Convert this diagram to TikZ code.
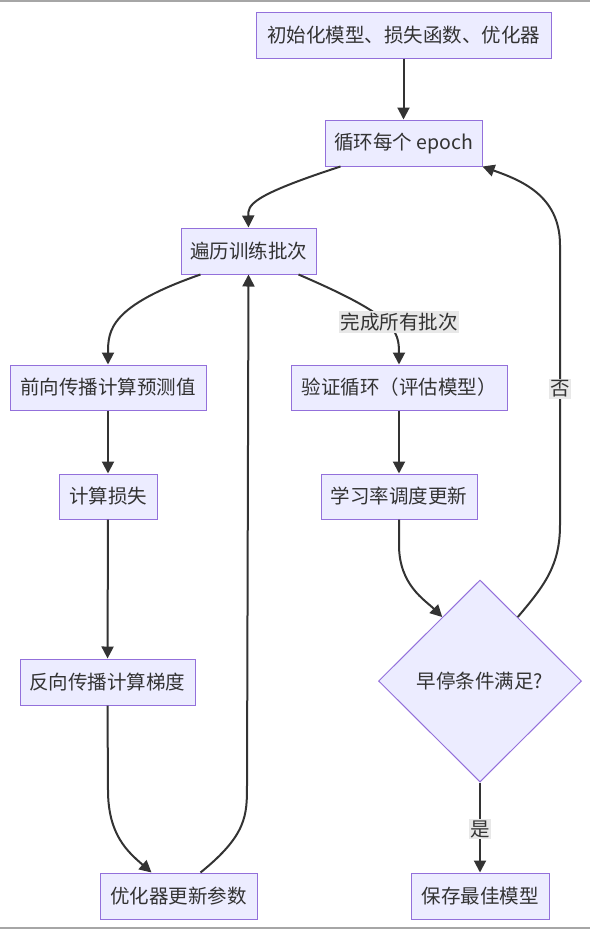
\documentclass[tikz,border=0pt]{standalone}
\usepackage{fontspec}
\setmainfont{Noto Sans CJK SC}
\usepackage{tikz}
\usetikzlibrary{arrows.meta,positioning,calc,shapes.geometric}
\definecolor{boxfill}{HTML}{ECECFF}
\definecolor{boxline}{HTML}{9370DB}
\definecolor{ink}{HTML}{333333}
\definecolor{lblfill}{HTML}{E8E8E8}
\tikzset{
  stepbox/.style={draw=boxline,fill=boxfill,line width=1pt,inner sep=0pt,
                  text=ink,font=\fontsize{19.5}{23}\selectfont},
  decide/.style={stepbox,diamond,minimum width=203pt,minimum height=202pt},
  flow/.style={draw=ink,line width=2pt,-{Triangle[length=12pt,width=12pt]}},
  edgelabel/.style={fill=lblfill,text=ink,inner sep=1.5pt,
                    font=\fontsize{19.5}{23}\selectfont}
}

\begin{document}
\begin{tikzpicture}[x=1pt,y=-1pt]
\useasboundingbox (0,0) rectangle (590,930);
\draw[gray!70,line width=1.5pt] (0,1) -- (590,1);
\draw[gray!70,line width=1.5pt] (0,928) -- (590,928);

% training loop
\node[stepbox,minimum width=295pt,minimum height=46pt] (init)  at (403.5,35)  {初始化模型、损失函数、优化器};
\node[stepbox,minimum width=157pt,minimum height=46pt] (epoch) at (403.5,143) {循环每个 epoch};
\node[stepbox,minimum width=135pt,minimum height=46pt] (batch) at (248.5,251) {遍历训练批次};
\node[stepbox,minimum width=196pt,minimum height=45pt] (fwd)   at (108,387.5) {前向传播计算预测值};
\node[stepbox,minimum width=98pt,minimum height=45pt]  (loss)  at (108,496.5) {计算损失};
\node[stepbox,minimum width=175pt,minimum height=46pt] (bwd)   at (107.5,682) {反向传播计算梯度};
\node[stepbox,minimum width=157pt,minimum height=46pt] (optim) at (178.5,896) {优化器更新参数};

% validation side
\node[stepbox,minimum width=216pt,minimum height=45pt] (valid) at (399,387.5) {验证循环（评估模型）};
\node[stepbox,minimum width=156pt,minimum height=45pt] (sched) at (399,496.5) {学习率调度更新};
\node[decide] (stop) at (480,681) {早停条件满足?};
\node[stepbox,minimum width=138pt,minimum height=46pt] (save)  at (480,896) {保存最佳模型};

\draw[flow] (init) -- (epoch);
\draw[flow] ([xshift=-63pt]epoch.south) .. controls (250,196) and (248,205) .. (batch.north);
\draw[flow] ([xshift=-48pt]batch.south) .. controls (110,306) and (108,330) .. (fwd.north);
\draw[flow] (fwd) -- (loss);
\draw[flow] (loss) -- (bwd);
\draw[flow] (bwd.south) -- (108,790) .. controls (108,835) and (128,852) .. ([xshift=-27pt]optim.north);
\draw[flow] ([xshift=22pt]optim.north) .. controls (247,835) and (247,815) .. (247,785) -- (batch.south);
\draw[flow] ([xshift=50pt]batch.south) .. controls (395,316) and (399,330) .. (valid.north);
\node[edgelabel] (lbldone) at (399,322) {完成所有批次};
\draw[flow] (valid) -- (sched);
\draw[flow] (sched.south) -- (399,545) .. controls (399,585) and (425,600) .. ($(stop.west)!0.63!(stop.north)$);
\draw[flow] ($(stop.east)!0.63!(stop.north)$) .. controls (545,585) and (560,565) .. (560,525)
  -- (560,245) .. controls (560,195) and (520,180) .. (epoch.south east);
\node[edgelabel] (lblno) at (560,389) {否};
\draw[flow] (stop) -- (save);
\node[edgelabel] (lblyes) at (480,829) {是};
\end{tikzpicture}
\end{document}
